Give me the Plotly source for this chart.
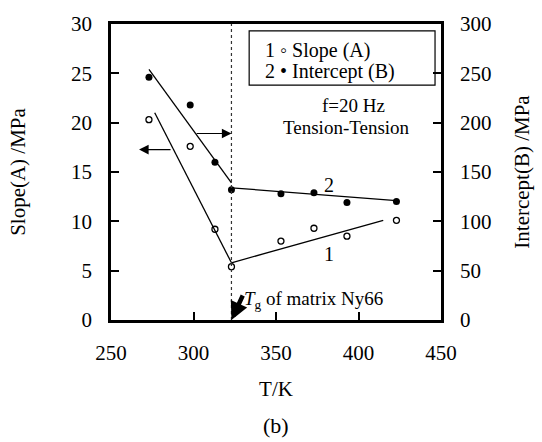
import plotly.graph_objects as go

# ---- data ----
T = [273, 298, 313, 323, 353, 373, 393, 423]
slope_A = [20.3, 17.6, 9.2, 5.4, 8.0, 9.3, 8.5, 10.1]
intercept_B = [246, 218, 160, 132, 128, 129, 119, 120]

Tg = 323
fitA_low_T = [276.5, 323]
fitA_low = [21.0, 5.8]
fitA_high_T = [323, 415]
fitA_high = [5.8, 10.1]
fitB_low_T = [273, 323]
fitB_low = [254, 139]
fitB_high_T = [323, 423]
fitB_high = [134, 121]

x_ticks = [250, 300, 350, 400, 450]
yA_ticks = [0, 5, 10, 15, 20, 25, 30]
yB_ticks = [0, 50, 100, 150, 200, 250, 300]

FONT = "'Liberation Serif', 'Times New Roman', 'DejaVu Serif', serif"
BLACK = "black"

fig = go.Figure()

line_style = dict(color=BLACK, width=1.3)
fig.add_trace(go.Scatter(x=fitA_low_T, y=fitA_low, mode="lines", line=line_style,
                         showlegend=False, hoverinfo="skip"))
fig.add_trace(go.Scatter(x=fitA_high_T, y=fitA_high, mode="lines", line=line_style,
                         showlegend=False, hoverinfo="skip"))
fig.add_trace(go.Scatter(x=fitB_low_T, y=fitB_low, mode="lines", line=line_style,
                         yaxis="y2", showlegend=False, hoverinfo="skip"))
fig.add_trace(go.Scatter(x=fitB_high_T, y=fitB_high, mode="lines", line=line_style,
                         yaxis="y2", showlegend=False, hoverinfo="skip"))

fig.add_trace(go.Scatter(x=T, y=slope_A, mode="markers", name="Slope (A)",
                         showlegend=False,
                         marker=dict(symbol="circle-open", size=6, color=BLACK,
                                     line=dict(width=1.3, color=BLACK))))
fig.add_trace(go.Scatter(x=T, y=intercept_B, mode="markers", name="Intercept (B)",
                         yaxis="y2", showlegend=False,
                         marker=dict(symbol="circle", size=7, color=BLACK)))

W, H = 542, 442
L, R, TOP, B = 111, 99, 20, 122
PW, PH = W - L - R, H - TOP - B


def px_x(p):
    return (p - L) / PW


def px_y(p):
    return (H - B - p) / PH


axis_common = dict(showline=True, linecolor=BLACK, linewidth=2.5, ticks="inside",
                   ticklen=8, tickwidth=2, tickcolor=BLACK, showgrid=False,
                   zeroline=False, tickfont=dict(family=FONT, size=21, color=BLACK))

fig.update_layout(
    width=W, height=H,
    margin=dict(l=L, r=R, t=TOP, b=B),
    paper_bgcolor="white", plot_bgcolor="white",
    font=dict(family=FONT, color=BLACK),
    xaxis=dict(range=[250, 450], tickvals=x_ticks, mirror=True,
               ticklabelstandoff=12,
               title=dict(text="T/K", font=dict(family=FONT, size=21), standoff=18),
               **axis_common),
    yaxis=dict(range=[0, 30], tickvals=yA_ticks, ticklabelstandoff=12,
               title=dict(text="Slope(A) /MPa", font=dict(family=FONT, size=21), standoff=40),
               **axis_common),
    yaxis2=dict(range=[0, 300], tickvals=yB_ticks, overlaying="y", side="right",
                ticklabelstandoff=12,
                title=dict(text="Intercept(B) /MPa", font=dict(family=FONT, size=21), standoff=24),
                **axis_common),
    showlegend=False,
)

# legend frame
fig.add_shape(type="rect", xref="paper", yref="paper",
              x0=px_x(250), x1=px_x(437), y0=px_y(82), y1=px_y(27),
              line=dict(color=BLACK, width=1.2), fillcolor="white", layer="below")
# Tg dotted line
fig.add_shape(type="line", xref="x", yref="paper", x0=Tg, x1=Tg, y0=0, y1=1,
              line=dict(color="#333", width=1.2, dash="dot"))

ann = []
ann.append(dict(xref="paper", yref="paper", x=px_x(264), y=px_y(47),
                xanchor="left", yanchor="middle", text="1 \u25e6 Slope (A)",
                showarrow=False, font=dict(size=20)))
ann.append(dict(xref="paper", yref="paper", x=px_x(264), y=px_y(68),
                xanchor="left", yanchor="middle", text="2 \u2022 Intercept (B)",
                showarrow=False, font=dict(size=20)))
ann.append(dict(xref="x", yref="y", x=397, y=21.7, text="f=20 Hz",
                xanchor="center", yanchor="middle",
                showarrow=False, font=dict(size=19)))
ann.append(dict(xref="x", yref="y", x=393, y=19.5, text="Tension-Tension",
                xanchor="center", yanchor="middle",
                showarrow=False, font=dict(size=19)))
ann.append(dict(xref="x", yref="y", x=382, y=13.7, text="2",
                xanchor="center", yanchor="middle",
                showarrow=False, font=dict(size=20)))
ann.append(dict(xref="x", yref="y", x=382, y=6.7, text="1",
                xanchor="center", yanchor="middle",
                showarrow=False, font=dict(size=20)))
ann.append(dict(xref="x", yref="y", x=329.5, y=2.0, xanchor="left", yanchor="middle",
                text="<i>T</i><sub>g</sub> of matrix Ny66",
                showarrow=False, font=dict(size=19)))
# arrow to Tg on the x axis
ann.append(dict(xref="x", yref="y", x=Tg, y=0, ax=12, ay=-26, text="",
                showarrow=True, arrowhead=2, arrowsize=0.8, arrowwidth=4.5,
                arrowcolor=BLACK, standoff=0))
# axis pointer arrows
ann.append(dict(xref="x", yref="y", x=267, y=17.27, ax=287, ay=17.27,
                axref="x", ayref="y", text="", showarrow=True, arrowhead=2,
                arrowsize=1.6, arrowwidth=1.2, arrowcolor=BLACK))
ann.append(dict(xref="x", yref="y", x=323, y=18.9, ax=301, ay=18.9,
                axref="x", ayref="y", text="", showarrow=True, arrowhead=2,
                arrowsize=1.6, arrowwidth=1.2, arrowcolor=BLACK))
ann.append(dict(xref="paper", yref="paper", x=px_x(277), y=px_y(427), text="(b)",
                xanchor="center", yanchor="middle",
                showarrow=False, font=dict(size=22)))
fig.update_layout(annotations=ann)

fig.write_html("out.html")
